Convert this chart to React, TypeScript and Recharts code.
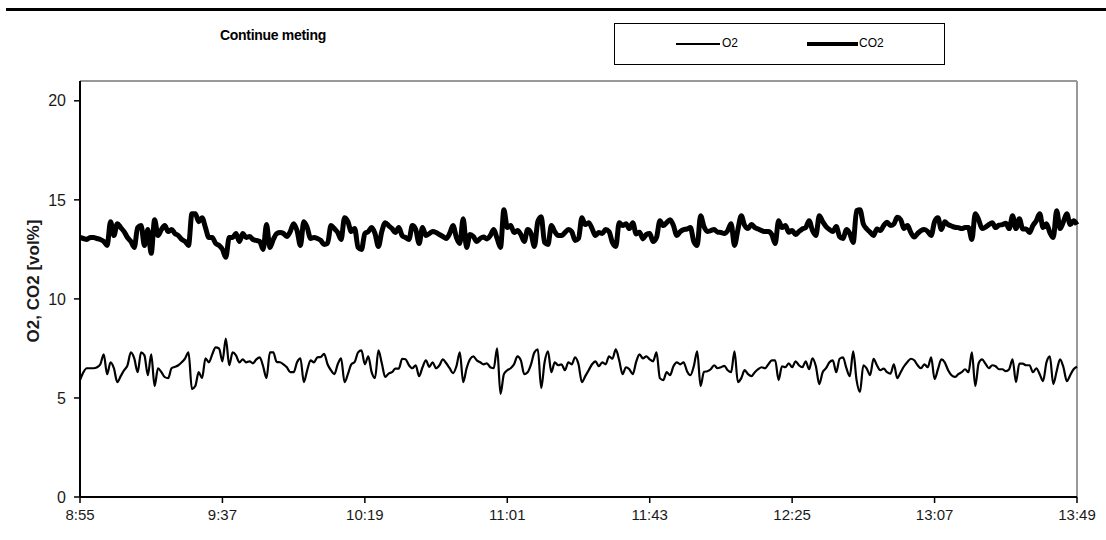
import { LineChart, Line, XAxis, YAxis, Legend, ReferenceLine } from 'recharts';

// Sampled once per minute, starting at 8:55
const o2Values = [
  5.9, 6.3, 6.5, 6.5, 6.5, 6.55, 6.7, 7.2, 6.2, 6.8,
  6.5, 5.8, 6.1, 6.4, 6.65, 7.3, 7.0, 6.3, 7.3, 7.15,
  6.15, 7.2, 5.6, 6.5, 6.3, 6.05, 6.0, 6.5, 6.57, 6.65,
  6.8, 7.0, 7.3, 5.45, 5.6, 6.3, 6.0, 7.0, 6.8, 7.2,
  7.55, 7.5, 6.85, 8.0, 6.65, 7.3, 7.15, 6.8, 6.95, 6.8,
  6.85, 6.75, 6.95, 7.05, 6.6, 6.0, 7.3, 7.3, 6.82, 6.8,
  6.7, 6.55, 6.3, 6.3, 6.8, 7.0, 5.8, 6.4, 6.9, 6.8,
  7.05, 7.07, 7.23, 6.7, 6.4, 6.2, 6.7, 7.0, 5.8, 6.2,
  6.7, 6.82, 7.3, 7.4, 6.7, 7.1, 6.3, 6.0, 7.4, 6.75,
  6.06, 6.23, 6.3, 6.48, 6.48, 6.98, 6.95, 6.65, 6.5, 6.65,
  6.1, 6.55, 6.9, 6.57, 6.8, 6.5, 6.65, 6.95, 6.75, 6.5,
  6.25, 6.6, 7.3, 5.8, 6.5, 6.95, 7.1, 6.9, 6.8, 6.7,
  6.75, 6.55, 6.5, 7.5, 5.2, 6.2, 6.4, 6.5, 6.7, 7.1,
  6.9, 6.2, 6.3, 6.7, 7.3, 7.45, 5.5, 6.8, 7.35, 6.3,
  6.8, 6.65, 6.7, 6.4, 6.8, 6.7, 7.05, 6.7, 5.8, 6.1,
  6.4, 6.7, 6.85, 6.6, 6.8, 6.7, 7.1, 6.98, 7.45, 6.9,
  6.2, 6.55, 6.45, 6.2, 6.82, 7.2, 7.0, 7.1, 6.95, 6.85,
  7.3, 6.0, 5.9, 6.3, 6.15, 6.6, 6.8, 6.7, 6.8, 6.35,
  6.15, 6.6, 7.35, 5.6, 6.32, 6.35, 6.45, 6.65, 6.5, 6.55,
  6.62, 6.4, 6.3, 7.35, 5.8, 6.0, 6.4, 6.2, 6.1, 6.3,
  6.45, 6.55, 6.5, 6.7, 6.9, 6.9, 5.9, 6.6, 6.55, 6.75,
  6.55, 6.85, 6.65, 6.55, 6.85, 6.45, 7.0, 6.6, 5.7, 6.3,
  6.5, 6.8, 6.9, 6.3, 6.98, 7.05, 6.5, 6.1, 7.35, 5.9,
  5.3, 6.65, 6.48, 6.15, 6.98, 6.65, 6.4, 6.48, 6.3, 6.23,
  6.7, 6.0, 6.3, 6.6, 6.82, 6.98, 6.9, 6.65, 6.5, 6.7,
  6.55, 7.05, 5.95, 6.45, 6.95, 6.8, 6.4, 6.15, 6.06, 6.2,
  6.3, 6.45, 6.3, 7.3, 5.6, 6.75, 6.95, 6.73, 6.5, 6.65,
  6.6, 6.45, 6.45, 6.35, 6.45, 6.95, 5.8, 6.73, 6.73, 6.65,
  6.65, 6.3, 6.5, 6.2, 5.85, 6.8, 7.1, 5.7, 6.35, 6.95,
  6.55, 5.85, 6.15, 6.45, 6.57,
];

const co2Values = [
  13.1, 13.05, 13.0, 13.1, 13.1, 13.05, 13.0, 12.9, 12.7, 13.9,
  13.2, 13.8, 13.6, 13.4, 13.1, 12.9, 12.6, 13.6, 13.7, 12.7,
  13.5, 12.3, 14.0, 13.2, 13.5, 13.7, 13.4, 13.5, 13.3, 13.2,
  13.0, 12.9, 12.7, 14.3, 14.3, 13.9, 14.1, 13.6, 13.1, 13.1,
  12.8, 12.7, 12.5, 12.1, 13.1, 13.1, 13.3, 12.9, 13.3, 13.1,
  13.15, 13.0, 12.95, 12.9, 12.5, 13.75, 12.6, 13.0, 13.3, 13.35,
  13.3, 13.15, 13.4, 13.8, 13.45, 12.7, 13.9, 13.6, 13.05, 13.1,
  13.05, 12.95, 12.75, 12.8, 13.7, 13.55, 13.35, 13.0, 14.1, 13.9,
  13.4, 13.55, 12.6, 12.5, 13.3, 13.4, 13.6, 13.3, 12.65, 13.4,
  13.85, 13.7, 13.55, 13.35, 13.6, 13.2, 13.1, 13.0, 13.7, 13.5,
  12.8, 13.6, 13.2, 13.3, 13.4, 13.35, 13.25, 13.15, 13.05, 13.3,
  13.7, 13.1, 12.8, 14.05, 12.6, 13.25, 13.15, 12.9, 13.05, 13.12,
  13.03, 13.2, 13.5, 13.05, 12.6, 14.5, 13.6, 13.7, 13.35, 13.45,
  13.25, 12.9, 13.5, 13.3, 12.65, 13.9, 14.15, 12.85, 12.75, 13.7,
  13.4, 13.2, 13.2, 13.35, 13.5, 13.4, 12.95, 13.05, 14.1, 13.75,
  13.85, 13.55, 13.2, 13.35, 13.3, 13.5, 13.4, 12.85, 12.65, 13.85,
  13.7, 13.8, 13.55, 13.85, 13.28, 13.37, 13.03, 13.25, 13.3, 12.9,
  13.1, 13.95, 13.7, 13.85, 14.0, 13.7, 13.2, 13.4, 13.5, 13.53,
  13.6, 12.9, 12.7, 14.2, 13.65, 13.4, 13.45, 13.5, 13.37, 13.35,
  13.3, 13.45, 13.8, 12.7, 13.5, 14.2, 13.7, 13.55, 13.75, 13.6,
  13.53, 13.45, 13.4, 13.4, 13.25, 12.8, 13.95, 13.6, 13.7, 13.37,
  13.45, 13.25, 13.4, 13.53, 13.6, 13.95, 13.45, 13.2, 14.2, 13.9,
  13.65, 13.5, 13.4, 13.65, 13.15, 13.05, 13.5, 13.3, 12.85, 14.45,
  14.5, 13.78, 13.53, 13.37, 13.2, 13.53, 13.45, 13.7, 13.87, 13.7,
  13.78, 14.12, 14.0, 13.55, 13.7, 13.35, 13.12, 13.3, 13.45, 13.5,
  13.4, 13.2, 13.9, 14.1, 13.5, 13.9, 13.75, 13.68, 13.62, 13.6,
  13.55, 13.6, 13.6, 13.0, 14.3, 14.0, 13.55, 13.62, 13.75, 13.85,
  13.6, 13.72, 13.75, 13.82, 13.55, 14.2, 13.55, 14.05, 13.53, 13.53,
  13.35, 13.7, 13.95, 14.3, 13.6, 13.8, 13.35, 13.1, 14.45, 13.55,
  13.9, 14.3, 13.75, 13.95, 13.75,
];

const tickMinutes = [0, 42, 84, 126, 168, 210, 252, 294];
const tickLabels = ['8:55', '9:37', '10:19', '11:01', '11:43', '12:25', '13:07', '13:49'];
const yTicks = [0, 5, 10, 15, 20];

const data = co2Values.map((v, i) => ({ t: i, O2: o2Values[i], CO2: v }));

const font = '"Liberation Sans", Arial, sans-serif';

// legend drawn as a framed box like the original
function LegendBox() {
  return (
    <div style={{ width: 329, height: 40, border: '1px solid #000', fontFamily: font, fontSize: 12, position: 'relative' }}>
      <div style={{ position: 'absolute', left: 61, top: 19, width: 44, height: 2, background: '#000' }} />
      <span style={{ position: 'absolute', left: 107, top: 12 }}>O2</span>
      <div style={{ position: 'absolute', left: 192, top: 18, width: 51, height: 4, background: '#000' }} />
      <span style={{ position: 'absolute', left: 244, top: 12 }}>CO2</span>
    </div>
  );
}

export default function App() {
  return (
    <div style={{ position: 'absolute', left: 0, top: 0, width: 1106, height: 540, background: '#fff' }}>
      <div style={{ position: 'absolute', left: 6, top: 8, width: 1100, height: 3, background: '#000' }} />
      <div style={{ position: 'absolute', left: 220, top: 27, fontFamily: font, fontWeight: 'bold', fontSize: 14, letterSpacing: -0.3 }}>
        Continue meting
      </div>
      <LineChart width={1106} height={540} data={data} margin={{ top: 81, right: 29, bottom: 13, left: 0 }}>
        <XAxis
          type="number"
          dataKey="t"
          domain={[0, 294]}
          ticks={tickMinutes}
          tickFormatter={(v) => tickLabels[tickMinutes.indexOf(v)]}
          height={30}
          axisLine={{ stroke: '#000', strokeWidth: 2 }}
          tickLine={{ stroke: '#000', strokeWidth: 1.5 }}
          tickSize={6}
          tickMargin={6}
          tick={{ fill: '#1a1a1a', fontSize: 15, fontFamily: font }}
        />
        <YAxis
          type="number"
          domain={[0, 21]}
          ticks={yTicks}
          width={80}
          axisLine={{ stroke: '#000', strokeWidth: 2 }}
          tickLine={{ stroke: '#000', strokeWidth: 1.5 }}
          tickSize={6}
          tickMargin={8}
          tick={{ fill: '#1a1a1a', fontSize: 16, fontFamily: font }}
          label={{ value: 'O2, CO2 [vol%]', angle: -90, position: 'insideLeft', offset: 33, dy: -8, style: { textAnchor: 'middle', fontWeight: 'bold', fontSize: 17, fontFamily: font, fill: '#1a1a1a' } }}
        />
        <ReferenceLine y={21} stroke="#999" strokeWidth={2} />
        <ReferenceLine x={294} stroke="#999" strokeWidth={2} />
        <Legend
          layout="vertical"
          align="center"
          verticalAlign="middle"
          wrapperStyle={{ left: 614, top: 23, width: 331, height: 42 }}
          content={() => <LegendBox />}
        />
        <Line type="monotone" dataKey="O2" stroke="#000" strokeWidth={2.2} dot={false} isAnimationActive={false} />
        <Line type="monotone" dataKey="CO2" stroke="#000" strokeWidth={5} dot={false} isAnimationActive={false} />
      </LineChart>
    </div>
  );
}
